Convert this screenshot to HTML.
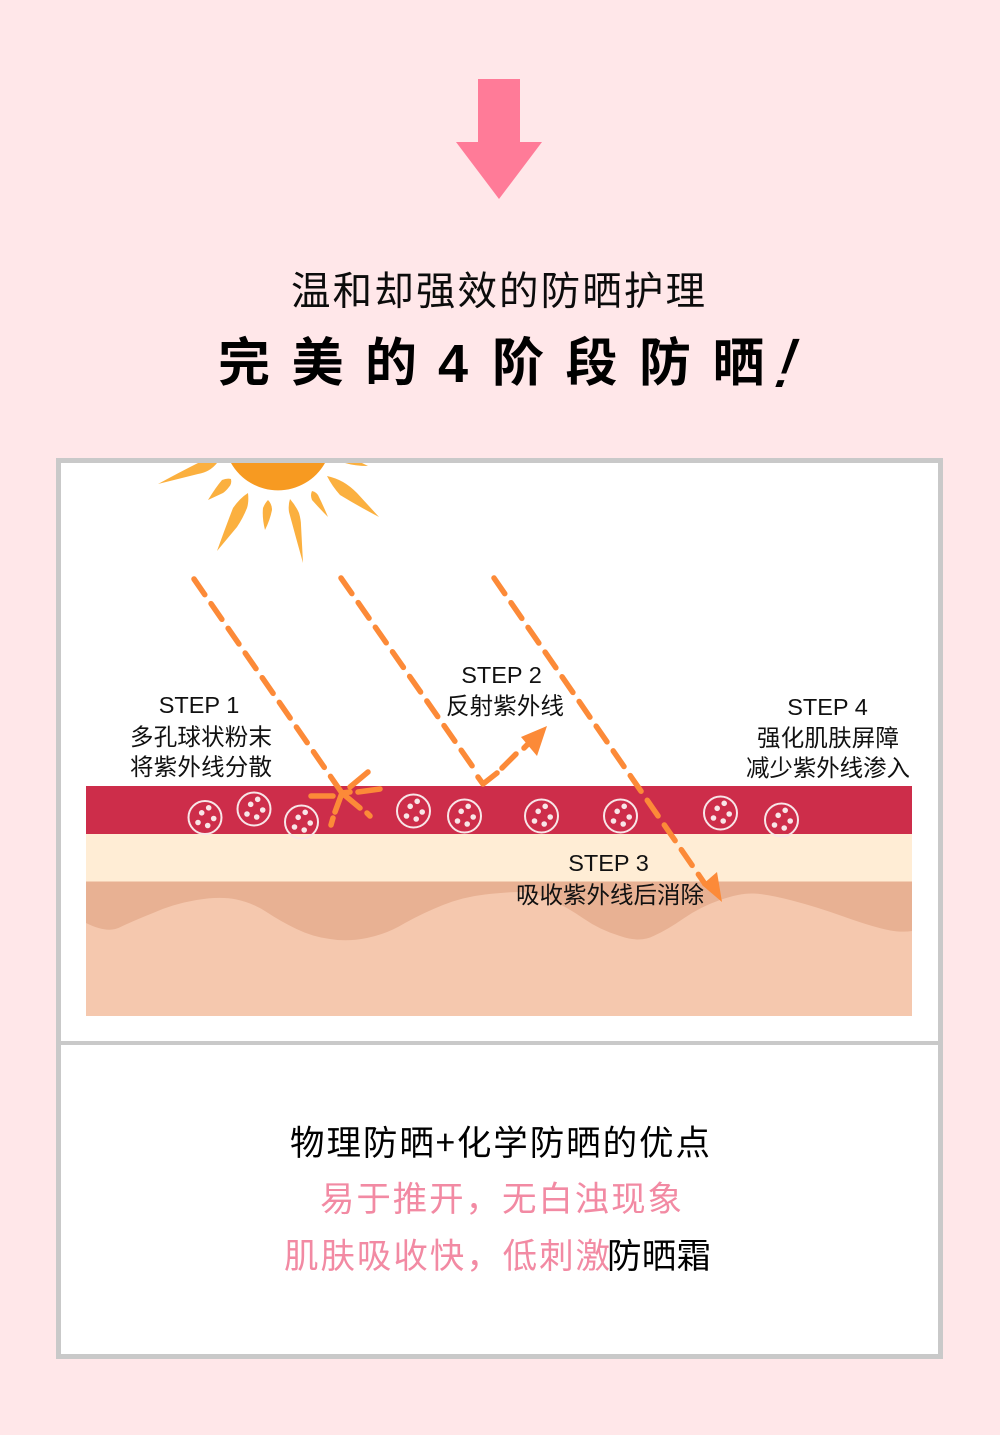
<!DOCTYPE html>
<html>
<head>
<meta charset="utf-8">
<style>
html,body{margin:0;padding:0;background:#ffe7e9;}
svg{display:block;}
text{font-family:"Liberation Sans","Noto Sans CJK SC",sans-serif;fill:#111;}
.c{font-family:"Noto Sans CJK SC",sans-serif;}
</style>
</head>
<body>
<svg width="1000" height="1435" viewBox="0 0 1000 1435" xmlns="http://www.w3.org/2000/svg">
<rect width="1000" height="1435" fill="#ffe7e9"/>
<polygon points="478,79 520,79 520,142 542,142 499,199 456,142 478,142" fill="#ff7b98"/>

<text class="c" x="291" y="305" font-size="39.500" textLength="414" lengthAdjust="spacing" style="fill:#0c0c0c">温和却强效的防晒护理</text>
<text class="c" x="218" y="381" font-size="52" font-weight="700" letter-spacing="21.500" style="fill:#000">完美的</text>
<text x="438" y="382" font-size="54" font-weight="700" style="fill:#000">4</text>
<text class="c" x="492" y="381" font-size="52" font-weight="700" letter-spacing="21.500" style="fill:#000">阶段防晒</text>
<text transform="translate(769,387) skewX(-20)" x="0" y="0" font-size="70" style="fill:#000">!</text>

<rect x="58.500" y="460.500" width="882" height="896" fill="#fff" stroke="#c9c9c9" stroke-width="5"/>
<rect x="58" y="1041" width="883" height="4" fill="#c9c9c9"/>

<!-- sun -->
<path d="M231,463 A54,54 0 0 0 325,463 Z" fill="#f79a21"/>
<g fill="#fbb03f">
<path d="M158,484 Q180,472 198,463 L217,463 Q210,472 198,474 Z"/>
<path d="M208,500 Q216,487 222,480 Q227,478 231,479 Q232,484 229,487 Q226,491 223,493 Z"/>
<path d="M217,551 Q226,526 233,508 Q240,498 248,493 Q249,502 247,508 Q243,518 237,527 Z"/>
<path d="M265,530 Q262,518 263,508 Q265,503 268,500 Q272,504 272,510 Q270,520 265,530 Z"/>
<path d="M303,563 Q296,538 289,512 Q288,505 290,499 Q296,506 299,513 Q301,520 301,525 Z"/>
<path d="M328,517 Q320,509 312,500 Q310,495 312,491 Q316,492 318,495 Q323,505 328,517 Z"/>
<path d="M379,517 Q358,506 340,495 Q332,486 327,476 Q336,478 343,482 Q350,486 357,493 Z"/>
<path d="M345,463 L362,463 L368,466 Q355,466 345,463 Z"/>
</g>

<!-- skin layers -->
<rect x="86" y="786" width="826" height="48" fill="#cd2d4a"/>
<rect x="86" y="834" width="826" height="48" fill="#ffedd5"/>
<rect x="86" y="881.500" width="826" height="134.500" fill="#e8b193"/>
<path d="M86,923 Q108,934 120.500,927 Q133,921 153,913 Q173,904 196.500,900 Q220,896 236.500,899.500 Q253,903 266.500,912 Q280,921 296.500,929 Q313,937 330,939 Q347,942 367,938 Q387,934 405,923 Q423,913 443,905 Q463,897 485,894.500 Q507,892 520.500,892 Q533,892 550,899.500 Q567,907 583.500,918.500 Q600,930 620,936 Q640,943 653.500,936 Q667,930 683.500,918.500 Q700,907 720,900 Q740,893 753.500,893.500 Q767,894 792,900.500 Q817,907 842,916 Q867,925 883.500,929 Q900,933 912,931 L912,1016 L86,1016 Z" fill="#f5c8ae"/>

<!-- particles -->
<defs>
<g id="p">
<circle r="16.500" fill="none" stroke="#f8e6e8" stroke-width="2"/>
<circle cx="-3.300" cy="-4.700" r="2.800" fill="#f8e6e8"/>
<circle cx="3.700" cy="-9.700" r="2.800" fill="#f8e6e8"/>
<circle cx="8.700" cy="1" r="2.800" fill="#f8e6e8"/>
<circle cx="2.700" cy="8" r="2.800" fill="#f8e6e8"/>
<circle cx="-7" cy="5" r="2.800" fill="#f8e6e8"/>
</g>
</defs>
<use href="#p" x="205" y="817.500"/>
<use href="#p" x="254" y="809"/>
<use href="#p" x="301.500" y="822"/>
<use href="#p" x="413.500" y="811"/>
<use href="#p" x="464.500" y="816"/>
<use href="#p" x="541.500" y="816"/>
<use href="#p" x="620.500" y="816"/>
<use href="#p" x="720.500" y="813"/>
<use href="#p" x="781.500" y="820"/>

<!-- rays -->
<g fill="none" stroke="#fc8a38" stroke-width="5.500" stroke-linecap="round" stroke-linejoin="round">
<path d="M194,579 L342,793" stroke-dasharray="19 11"/>
<path d="M341,578 L475,770" stroke-dasharray="19 11"/>
<path d="M494,578 L705,884" stroke-dasharray="19 11"/>
<path d="M478,777 L483,784 L497,773 M502,768 L516,754 M524,748 L530,742"/>
<path d="M311,796 L333,796 M358,792 L380,789 M350,787 L368,772 M342,793 L335,812 M333,818 L331,825 M342,793 L350,792 M342,793 L360,808 M367,813 L370,816"/>
</g>
<polygon points="521,737 547,726 537,756" fill="#fc8a38"/>
<polygon points="702,885 717,872 722,902" fill="#fc8a38"/>

<!-- labels -->
<g font-size="23.500">
<text x="199" y="713" text-anchor="middle">STEP 1</text>
<text x="501.500" y="683" text-anchor="middle">STEP 2</text>
<text x="608.500" y="871" text-anchor="middle">STEP 3</text>
<text x="827.500" y="715" text-anchor="middle">STEP 4</text>
<text class="c" x="130" y="745" textLength="142">多孔球状粉末</text>
<text class="c" x="130" y="775" textLength="142">将紫外线分散</text>
<text class="c" x="446" y="714" textLength="118">反射紫外线</text>
<text class="c" x="516" y="903" textLength="188">吸收紫外线后消除</text>
<text class="c" x="757" y="746" textLength="142">强化肌肤屏障</text>
<text class="c" x="746" y="776" textLength="164">减少紫外线渗入</text>
</g>

<!-- bottom text -->
<text class="c" x="290" y="1155" font-size="34.500" textLength="420" style="fill:#000">物理防晒+化学防晒的优点</text>
<text class="c" x="320" y="1211" font-size="34.500" textLength="362" style="fill:#f28aa3">易于推开，无白浊现象</text>
<text class="c" x="284" y="1268" font-size="34.500" textLength="326" style="fill:#f28aa3">肌肤吸收快，低刺激</text>
<text class="c" x="607" y="1268" font-size="34.500" textLength="104" style="fill:#000">防晒霜</text>
</svg>
</body>
</html>
